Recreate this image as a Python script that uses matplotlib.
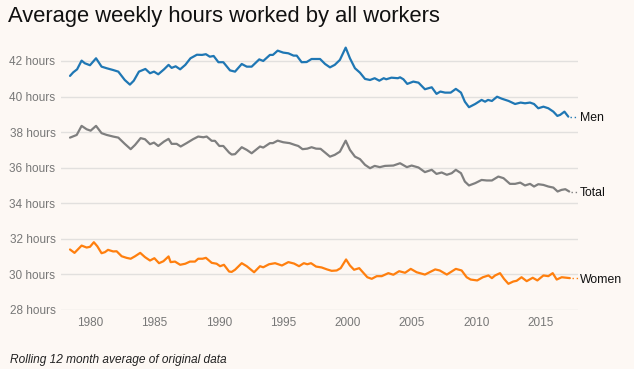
import numpy as np
import matplotlib.pyplot as plt

plt.rcParams['font.family'] = ['Liberation Sans', 'DejaVu Sans']

# Men - average weekly hours, rolling 12 month average
men_years = [1978.45, 1978.7, 1979.0, 1979.35, 1979.6, 1980.0, 1980.47, 1980.9, 1981.3, 1981.8,
             1982.2, 1982.7, 1983.1, 1983.4, 1983.8, 1984.3, 1984.66, 1984.97, 1985.3, 1985.75,
             1986.1, 1986.34, 1986.65, 1987.0, 1987.4, 1987.8, 1988.3, 1988.7, 1989.0, 1989.3,
             1989.6, 1989.97, 1990.35, 1990.87, 1991.26, 1991.78, 1992.17, 1992.55, 1993.14, 1993.45,
             1993.97, 1994.2, 1994.57, 1995.0, 1995.4, 1995.8, 1996.05, 1996.43, 1996.82, 1997.2,
             1997.6, 1997.86, 1998.25, 1998.63, 1999.0, 1999.4, 1999.85, 2000.18, 2000.57, 2000.96,
             2001.35, 2001.74, 2002.1, 2002.46, 2002.8, 2003.0, 2003.4, 2003.9, 2004.07, 2004.33,
             2004.63, 2005.1, 2005.5, 2006.0, 2006.53, 2006.9, 2007.2, 2007.56, 2008.0, 2008.4,
             2008.8, 2009.1, 2009.42, 2009.9, 2010.4, 2010.67, 2010.9, 2011.2, 2011.6, 2011.96,
             2012.5, 2013.0, 2013.43, 2013.77, 2014.16, 2014.47, 2014.8, 2015.2, 2015.58, 2015.97,
             2016.28, 2016.5, 2016.83, 2017.13]
men_hours = [41.16, 41.36, 41.53, 42.02, 41.87, 41.76, 42.15, 41.68, 41.59, 41.49,
             41.40, 40.93, 40.67, 40.89, 41.40, 41.55, 41.31, 41.40, 41.25, 41.53,
             41.78, 41.61, 41.70, 41.53, 41.78, 42.15, 42.35, 42.34, 42.38, 42.24,
             42.28, 41.93, 41.93, 41.47, 41.40, 41.83, 41.68, 41.68, 42.09, 42.00,
             42.34, 42.34, 42.58, 42.47, 42.43, 42.30, 42.30, 41.93, 41.94, 42.11,
             42.11, 42.11, 41.83, 41.64, 41.78, 42.06, 42.75, 42.15, 41.59, 41.34,
             40.99, 40.93, 41.03, 40.89, 41.03, 40.97, 41.06, 41.03, 41.08, 40.97,
             40.71, 40.84, 40.78, 40.41, 40.52, 40.15, 40.28, 40.22, 40.22, 40.43,
             40.22, 39.71, 39.40, 39.58, 39.81, 39.71, 39.81, 39.75, 39.99, 39.88,
             39.75, 39.58, 39.66, 39.62, 39.66, 39.58, 39.34, 39.43, 39.34, 39.15,
             38.91, 38.97, 39.15, 38.87]

# Total
total_years = [1978.45, 1978.97, 1979.35, 1979.74, 1980.05, 1980.47, 1980.9, 1981.3, 1981.8, 1982.2,
               1982.7, 1983.16, 1983.5, 1983.93, 1984.27, 1984.66, 1984.97, 1985.3, 1985.75, 1986.1,
               1986.34, 1986.73, 1987.04, 1987.5, 1988.0, 1988.4, 1988.8, 1989.06, 1989.45, 1989.7,
               1990.04, 1990.35, 1990.8, 1991.0, 1991.26, 1991.78, 1992.17, 1992.55, 1993.2, 1993.45,
               1993.97, 1994.2, 1994.57, 1995.0, 1995.5, 1995.9, 1996.17, 1996.5, 1996.87, 1997.2,
               1997.55, 1997.9, 1998.25, 1998.63, 1999.0, 1999.4, 1999.85, 2000.18, 2000.57, 2000.96,
               2001.35, 2001.74, 2002.1, 2002.5, 2002.9, 2003.55, 2004.07, 2004.6, 2004.97, 2005.5,
               2006.0, 2006.53, 2006.9, 2007.3, 2007.7, 2008.08, 2008.4, 2008.8, 2009.1, 2009.42,
               2009.9, 2010.4, 2010.8, 2011.2, 2011.7, 2012.1, 2012.6, 2013.0, 2013.4, 2013.77,
               2014.16, 2014.47, 2014.8, 2015.2, 2015.58, 2015.97, 2016.3, 2016.6, 2016.9, 2017.2]
total_hours = [37.69, 37.84, 38.35, 38.16, 38.08, 38.35, 37.94, 37.84, 37.75, 37.69,
               37.34, 37.04, 37.28, 37.66, 37.60, 37.32, 37.41, 37.22, 37.47, 37.62,
               37.34, 37.34, 37.19, 37.38, 37.60, 37.75, 37.71, 37.75, 37.51, 37.51,
               37.22, 37.22, 36.85, 36.74, 36.76, 37.15, 37.00, 36.81, 37.19, 37.13,
               37.38, 37.38, 37.52, 37.43, 37.38, 37.28, 37.22, 37.04, 37.07, 37.15,
               37.07, 37.06, 36.85, 36.62, 36.72, 36.90, 37.52, 37.00, 36.62, 36.48,
               36.16, 35.97, 36.10, 36.03, 36.10, 36.12, 36.25, 36.03, 36.12, 36.01,
               35.75, 35.88, 35.65, 35.73, 35.60, 35.69, 35.88, 35.69, 35.22, 35.00,
               35.13, 35.31, 35.28, 35.28, 35.50, 35.41, 35.09, 35.09, 35.16, 35.00,
               35.09, 34.94, 35.07, 35.03, 34.94, 34.88, 34.66, 34.75, 34.79, 34.66]

# Women
women_years = [1978.45, 1978.8, 1979.35, 1979.74, 1980.0, 1980.3, 1980.57, 1980.9, 1981.16, 1981.4,
               1981.8, 1982.07, 1982.46, 1982.84, 1983.16, 1983.5, 1983.9, 1984.27, 1984.66, 1985.0,
               1985.36, 1985.7, 1986.1, 1986.26, 1986.6, 1987.0, 1987.4, 1987.76, 1988.15, 1988.4,
               1988.74, 1989.0, 1989.45, 1989.83, 1990.1, 1990.4, 1990.8, 1991.0, 1991.26, 1991.78,
               1992.17, 1992.74, 1993.2, 1993.45, 1993.9, 1994.37, 1994.9, 1995.4, 1995.84, 1996.23,
               1996.6, 1996.87, 1997.16, 1997.55, 1997.98, 1998.4, 1998.76, 1999.15, 1999.46, 1999.88,
               2000.18, 2000.5, 2000.9, 2001.22, 2001.53, 2001.87, 2002.26, 2002.65, 2003.16, 2003.55,
               2004.0, 2004.46, 2004.9, 2005.36, 2006.0, 2006.8, 2007.15, 2007.7, 2008.4, 2008.85,
               2009.24, 2009.55, 2010.06, 2010.5, 2010.93, 2011.2, 2011.45, 2011.83, 2012.14, 2012.48,
               2012.86, 2013.12, 2013.5, 2013.9, 2014.37, 2014.73, 2015.2, 2015.58, 2015.92, 2016.23,
               2016.62, 2017.0, 2017.25]
women_hours = [31.40, 31.21, 31.62, 31.51, 31.55, 31.81, 31.58, 31.19, 31.25, 31.38,
               31.29, 31.30, 31.02, 30.93, 30.88, 31.02, 31.21, 30.97, 30.78, 30.91,
               30.63, 30.74, 31.01, 30.69, 30.72, 30.54, 30.60, 30.72, 30.72, 30.88,
               30.88, 30.93, 30.65, 30.60, 30.46, 30.54, 30.16, 30.14, 30.26, 30.63,
               30.46, 30.12, 30.46, 30.40, 30.57, 30.63, 30.50, 30.69, 30.61, 30.46,
               30.63, 30.57, 30.63, 30.44, 30.39, 30.28, 30.20, 30.22, 30.35, 30.84,
               30.50, 30.26, 30.35, 30.09, 29.84, 29.75, 29.90, 29.90, 30.07, 29.98,
               30.18, 30.09, 30.31, 30.12, 29.99, 30.28, 30.22, 29.99, 30.31, 30.22,
               29.84, 29.71, 29.66, 29.84, 29.94, 29.79, 29.94, 30.07, 29.75, 29.47,
               29.60, 29.64, 29.84, 29.62, 29.81, 29.66, 29.94, 29.90, 30.07, 29.71,
               29.84, 29.81, 29.79]

series = [
    ('Men', men_years, men_hours, '#1f77b4'),
    ('Total', total_years, total_hours, '#7f7f7f'),
    ('Women', women_years, women_hours, '#ff7f0e'),
]

yticks = [28, 30, 32, 34, 36, 38, 40, 42]
xticks = [1980, 1985, 1990, 1995, 2000, 2005, 2010, 2015]

bg = '#fdf8f4'
fig = plt.figure(figsize=(6.34, 3.69), dpi=100, facecolor=bg)
ax = fig.add_axes([0.0962, 0.16, 0.815, 0.723], facecolor=bg)

for name, xs, ys, col in series:
    ax.plot(xs, ys, color=col, lw=1.6, solid_joinstyle='round', solid_capstyle='round', zorder=3)
    # dotted connector to the label
    ax.plot([xs[-1] + 0.15, 2017.85], [ys[-1], ys[-1]], color=col, lw=1, ls=(0, (1, 2)),
            clip_on=False, zorder=3)
    ax.text(2018.0, ys[-1] - 0.08, name, fontsize=8.8, color='#111111', va='center', ha='left')

ax.set_xlim(1977.75, 2017.86)
ax.set_ylim(28, 43)
ax.set_yticks(yticks)
ax.set_yticklabels([f'{v} hours' for v in yticks])
ax.set_xticks(xticks)
ax.set_xticklabels([str(v) for v in xticks])
ax.tick_params(axis='both', length=0, labelsize=8.5, labelcolor='#777777')
ax.tick_params(axis='y', pad=4)
ax.tick_params(axis='x', pad=5)
ax.grid(axis='y', color='#e2e0de', lw=1)
ax.set_axisbelow(True)
for s in ax.spines.values():
    s.set_visible(False)

fig.text(0.012, 0.956, 'Average weekly hours worked by all workers', fontsize=15.8,
         color='#111111', va='center', ha='left')
fig.text(0.015, 0.025, 'Rolling 12 month average of original data', fontsize=8.6,
         style='italic', color='#222222', va='center', ha='left')

fig.savefig('out.png', dpi=100, facecolor=bg)
